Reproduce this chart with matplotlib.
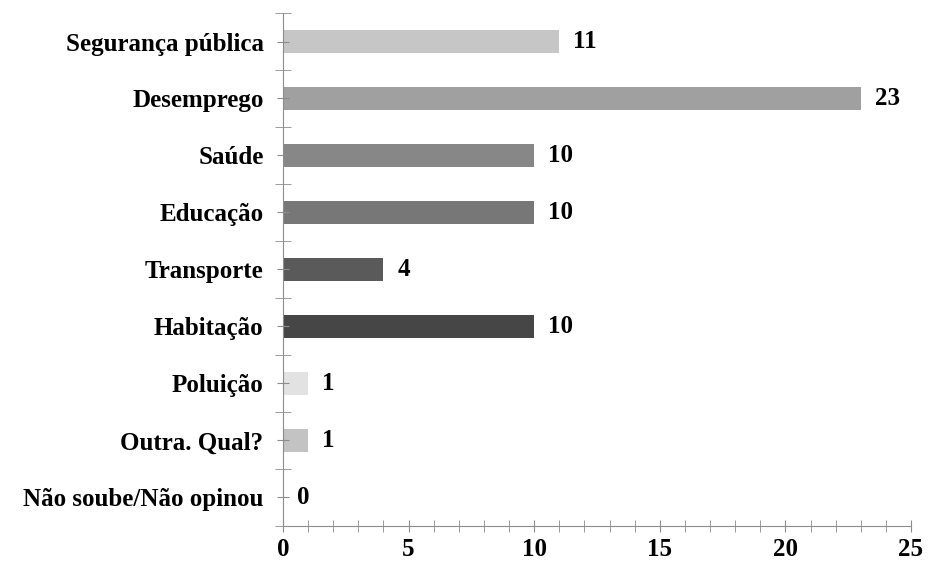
import numpy as np
import matplotlib.pyplot as plt
from matplotlib.ticker import MultipleLocator, FixedLocator

# data, top to bottom as in the picture
categories = ["Segurança pública", "Desemprego", "Saúde", "Educação", "Transporte",
              "Habitação", "Poluição", "Outra. Qual?", "Não soube/Não opinou"]
values = [11, 23, 10, 10, 4, 10, 1, 1, 0]
colors = ["#c6c6c6", "#a0a0a0", "#878787", "#777777", "#5a5a5a",
          "#464646", "#e2e2e2", "#c3c3c3", "#cccccc"]

plt.rcParams['font.family'] = ['Liberation Serif', 'DejaVu Serif']

fig = plt.figure(figsize=(9.31, 5.66), dpi=100)
ax = fig.add_axes([0.304, 0.071, 0.6745, 0.906])

n = len(categories)
y = np.arange(n)[::-1]
ax.barh(y, values, height=0.4, color=colors)

for yi, v in zip(y, values):
    ax.text(v + 0.55, yi, str(v), va='center', ha='left', fontsize=18, fontweight='bold')

ax.set_xlim(0, 25)
ax.set_ylim(-0.5, n - 0.5)

for s in ["top", "right"]:
    ax.spines[s].set_visible(False)
for s in ["left", "bottom"]:
    ax.spines[s].set_color("#8c8c8c")

ax.xaxis.set_major_locator(MultipleLocator(5))
ax.xaxis.set_minor_locator(MultipleLocator(1))
ax.tick_params(axis='x', which='both', direction='inout', length=9, color="#8c8c8c",
               labelsize=18, pad=4)
for lab in ax.get_xticklabels():
    lab.set_fontweight('bold')

ax.set_yticks(y)
ax.set_yticklabels(categories, fontsize=18, fontweight='bold')
ax.yaxis.set_minor_locator(FixedLocator(np.arange(-0.5, n, 1.0)))
ax.tick_params(axis='y', which='major', direction='inout', length=8, color="#8c8c8c", pad=10)
ax.tick_params(axis='y', which='minor', direction='inout', length=12, color="#8c8c8c")

fig.savefig("out.png", dpi=100)
